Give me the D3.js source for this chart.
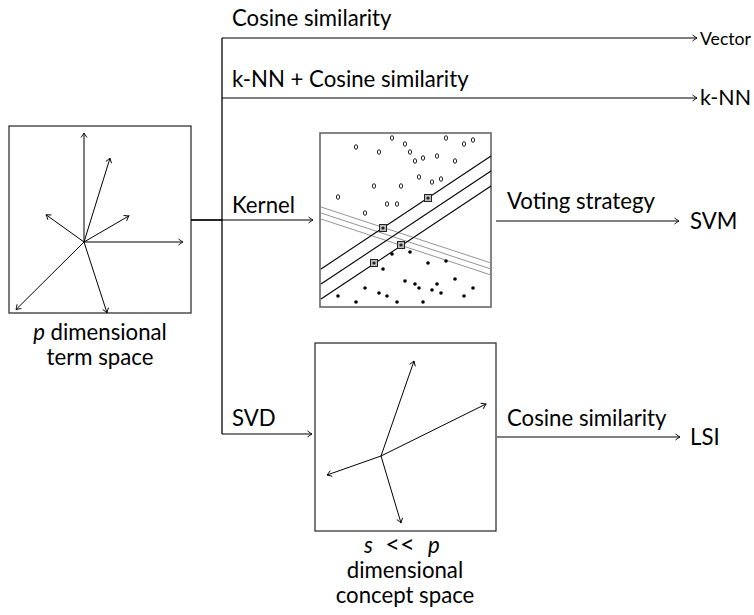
<!DOCTYPE html>
<html><head><meta charset="utf-8">
<script src="https://cdn.jsdelivr.net/npm/d3@7"></script>
<style>body{margin:0;background:#fff}text{font-family:Lato,"Open Sans",sans-serif;fill:#000}</style>
</head><body><svg id="c" width="754" height="615"></svg>
<script>
// ---- data ----
const termVectors = [[0,1.0],[0.26,0.77],[0.45,0.24],[0.99,0],[-0.38,0.25],[-0.68,-0.62],[0.23,-0.65]]; // relative to origin (box units)
const conceptVectors = [[0.33,0.95],[1.05,0.52],[-0.54,-0.19],[0.2,-0.67]];
const classA = [[356,147],[379,152],[392,138],[405,144],[410,152],[415,161],[423,158],[437,156],[446,138],[464,144],[473,140],[455,161],[419,177],[432,182],[441,179],[374,186],[401,186],[338,197],[387,204],[397,204],[365,213]];
const classB = [[392,254],[410,252],[383,269],[428,263],[446,261],[455,279],[405,281],[415,284],[419,288],[437,284],[432,290],[441,293],[365,288],[379,293],[387,296],[338,296],[356,302],[397,302],[423,302],[464,296],[473,288]];
const supportVectors = [[428,198],[383,228],[401,245],[374,263]];
const marginLines = [[269,156],[284,171],[299,186]];   // y at left / right edge
const otherLines = [[207,263],[213,269],[219,275]];
const branchLabels = ["Cosine similarity","k-NN + Cosine similarity","Kernel","SVD"];
const outputLabels = ["Vector","k-NN","SVM","LSI"];
const secondLabels = ["Voting strategy","Cosine similarity"];

const svg = d3.select("#c");
// font size fitted so that "Voting strategy" is ~148px wide
const probe = svg.append("text").style("font-size","22px").text(secondLabels[0]);
const fs = 22*148/probe.node().getComputedTextLength();
probe.remove();
svg.style("font-size",fs+"px");

const defs = svg.append("defs");
defs.append("marker").attr("id","ar").attr("viewBox","-6 -4 7 8").attr("refX",0).attr("refY",0)
  .attr("markerWidth",7).attr("markerHeight",8).attr("markerUnits","userSpaceOnUse").attr("orient","auto")
  .append("path").attr("d","M-4.5,-3 Q-1.2,-0.6 0,0 Q-1.2,0.6 -4.5,3").attr("fill","none").attr("stroke","#000").attr("stroke-width",0.9);

const line = (x1,y1,x2,y2,w,arrow,col)=>{const l=svg.append("line").attr("x1",x1).attr("y1",y1).attr("x2",x2).attr("y2",y2)
  .attr("stroke",col||"#000").attr("stroke-width",w||1.1); if(arrow) l.attr("marker-end","url(#ar)"); return l;};
const text = (x,y,t,anchor)=>svg.append("text").attr("x",x).attr("y",y).attr("text-anchor",anchor||"start").text(t);
// shrink font (not glyph shape) until text ends before the right edge
const fitText = (x,y,t,maxW)=>{const n=text(x,y,t); const w=n.node().getComputedTextLength();
  if(w>maxW) n.style("font-size",(fs*maxW/w)+"px"); return n;};

// ---- left box: term space ----
const tb = {x0:9,y0:126,x1:191,y1:313};
svg.append("rect").attr("x",tb.x0).attr("y",tb.y0).attr("width",tb.x1-tb.x0).attr("height",tb.y1-tb.y0).attr("fill","none").attr("stroke","#333").attr("stroke-width",1.3);
const tx = d3.scaleLinear().domain([0,1]).range([84,84+100]);
const ty = d3.scaleLinear().domain([0,1]).range([242,133]);
termVectors.forEach(v=>line(tx(0),ty(0),tx(v[0]),ty(v[1]),1.0,true));
const tl = svg.append("text").attr("x",100).attr("y",340).attr("text-anchor","middle");
tl.append("tspan").attr("font-style","italic").text("p"); tl.append("tspan").text(" dimensional");
text(100,365,"term space","middle");

// ---- branch lines ----
const bx = 222;
const branchY = d3.scaleOrdinal().domain(branchLabels).range([38,98,220,434]);
line(tb.x1,220,bx,220,1.7);
line(bx,branchY("Cosine similarity"),bx,branchY("SVD"),1.3);
line(bx,38,697,38,1.1,true);
line(bx,98,697,98,1.1,true);
line(bx,220,313,220,1.1,true);
line(bx,434,312,434,1.1,true);
const labY = [26,87,213,426];
branchLabels.forEach((t,i)=>text(232,labY[i],t));
fitText(700,45,outputLabels[0],51);
fitText(700,105,outputLabels[1],51);

// ---- SVM box ----
const sb = {x0:320,y0:133,x1:491,y1:307};
const sx = d3.scaleLinear().domain([320,491]).range([sb.x0,sb.x1]);
const sy = d3.scaleLinear().domain([133,307]).range([sb.y0,sb.y1]);
svg.append("rect").attr("x",sb.x0).attr("y",sb.y0).attr("width",sb.x1-sb.x0).attr("height",sb.y1-sb.y0).attr("fill","none").attr("stroke","#666").attr("stroke-width",1.6);
otherLines.forEach(d=>line(sx(321),sy(d[0]),sx(491),sy(d[1]),0.9,false,"#888"));
marginLines.forEach(d=>line(sx(321),sy(d[0]),sx(491),sy(d[1]),1.1,false,"#000"));
classA.forEach(d=>svg.append("ellipse").attr("cx",sx(d[0])).attr("cy",sy(d[1])).attr("rx",1.6).attr("ry",2.3).attr("fill","#fff").attr("stroke","#222").attr("stroke-width",1));
classB.forEach(d=>svg.append("circle").attr("cx",sx(d[0])).attr("cy",sy(d[1])).attr("r",1.8).attr("fill","#000"));
supportVectors.forEach(d=>{
  svg.append("rect").attr("x",sx(d[0])-3.5).attr("y",sy(d[1])-3.5).attr("width",7).attr("height",7).attr("fill","#bbb").attr("stroke","#222").attr("stroke-width",1);
  svg.append("circle").attr("cx",sx(d[0])).attr("cy",sy(d[1])).attr("r",1.6).attr("fill","#222");
});
line(496,221,679,221,1.1,true);
text(507,209,secondLabels[0]);
text(690,229,outputLabels[2]);

// ---- LSI box ----
const lb = {x0:315,y0:343,x1:496,y1:531};
svg.append("rect").attr("x",lb.x0).attr("y",lb.y0).attr("width",lb.x1-lb.x0).attr("height",lb.y1-lb.y0).attr("fill","none").attr("stroke","#333").attr("stroke-width",1.3);
const cx = d3.scaleLinear().domain([0,1]).range([381,381+100]);
const cy = d3.scaleLinear().domain([0,1]).range([456,456-100]);
conceptVectors.forEach(v=>line(cx(0),cy(0),cx(v[0]),cy(v[1]),1.0,true));
line(497,437,680,437,1.1,true);
text(507,426,secondLabels[1]);
text(690,445,outputLabels[3]);
text(364,553,"s").attr("font-style","italic");
text(400,553,"<<","middle").style("font-size",(fs*1.15)+"px");
text(428,553,"p").attr("font-style","italic");
text(405,578,"dimensional","middle");
text(405,603,"concept space","middle");
</script></body></html>
